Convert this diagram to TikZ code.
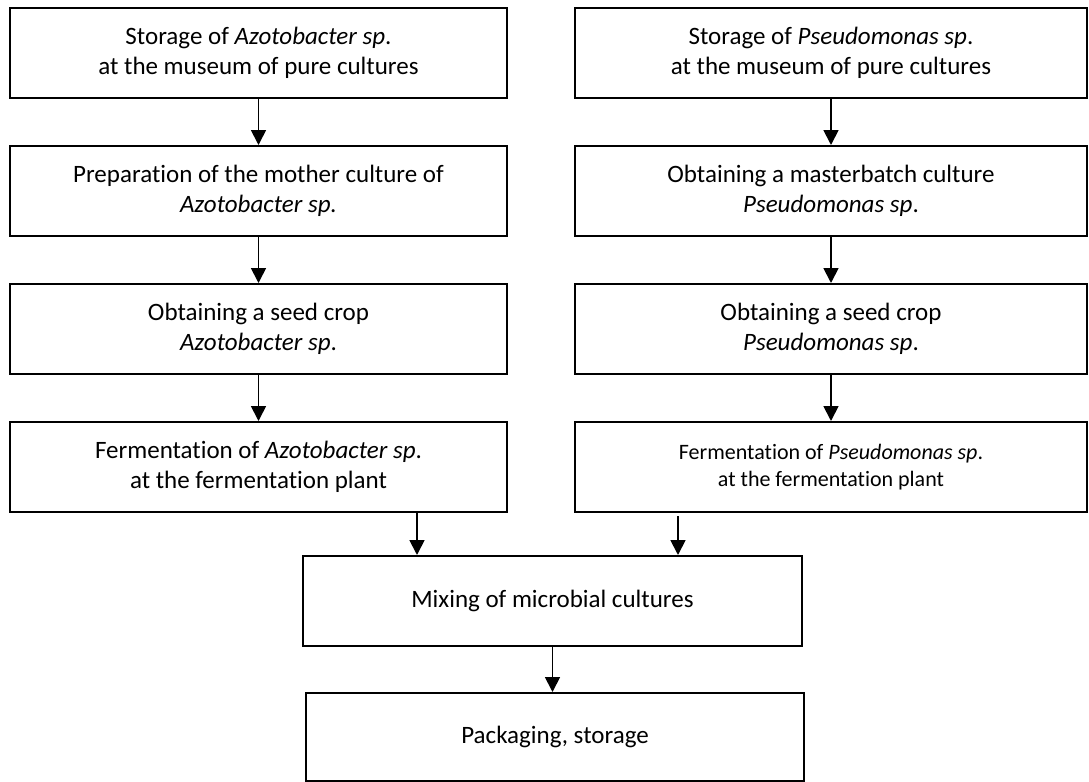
\documentclass[tikz,border=0pt]{standalone}
\usepackage{fontspec}
\setmainfont{Carlito}[Ligatures=NoCommon]
\usepackage{tikz}
\usetikzlibrary{arrows.meta}
\usetikzlibrary{positioning}

\begin{document}
\begin{tikzpicture}[node distance=23pt,
  box/.style={draw,rectangle,line width=1pt,align=center,minimum height=45pt,inner sep=2pt,font=\fontsize{12.5pt}{15pt}\selectfont},
  lbox/.style={box,minimum width=248.5pt},
  rbox/.style={box,minimum width=256pt},
  arr/.style={line width=0.9pt,-{Triangle[width=7.5pt,length=7.5pt]}}]
  \useasboundingbox (0,0) rectangle (544.5pt,-391pt);
  \node[lbox] (azo1) at (129.25pt,-26.5pt) {Storage of \textit{Azotobacter sp}.\\at the museum of pure cultures};
  \node[lbox,below=of azo1] (azo2) {Preparation of the mother culture of\\\textit{Azotobacter sp.}};
  \node[lbox,below=of azo2] (azo3) {Obtaining a seed crop\\\textit{Azotobacter sp}.};
  \node[lbox,below=of azo3] (azo4) {Fermentation of \textit{Azotobacter sp}.\\at the fermentation plant};
  \node[rbox] (pse1) at (415.5pt,-26.5pt) {Storage of \textit{Pseudomonas sp}.\\at the museum of pure cultures};
  \node[rbox,below=of pse1] (pse2) {Obtaining a masterbatch culture\\\textit{Pseudomonas sp}.};
  \node[rbox,below=of pse2] (pse3) {Obtaining a seed crop\\\textit{Pseudomonas sp}.};
  \node[rbox,below=of pse3,font=\fontsize{11pt}{13.5pt}\selectfont] (pse4) {Fermentation of \textit{Pseudomonas sp}.\\at the fermentation plant};
  \node[box,minimum width=249.5pt] (mix) at (276.25pt,-300.5pt) {Mixing of microbial cultures};
  \node[box,minimum width=249pt,minimum height=44pt] (pack) at (277.5pt,-368.5pt) {Packaging, storage};
  \coordinate (inl) at ([xshift=-67.75pt]mix.north);
  \coordinate (inr) at ([xshift=62.75pt]mix.north);
  \draw[arr](azo1)--(azo2);
  \draw[arr](azo2)--(azo3);
  \draw[arr](azo3)--(azo4);
  \draw[arr](pse1)--(pse2);
  \draw[arr](pse2)--(pse3);
  \draw[arr](pse3)--(pse4);
  \draw[arr](azo4.south -| inl)--(inl);
  \draw[arr]([yshift=-1.5pt]pse4.south -| inr)--(inr);
  \draw[arr](mix.south)--(mix.south |- pack.north);
\end{tikzpicture}
\end{document}
